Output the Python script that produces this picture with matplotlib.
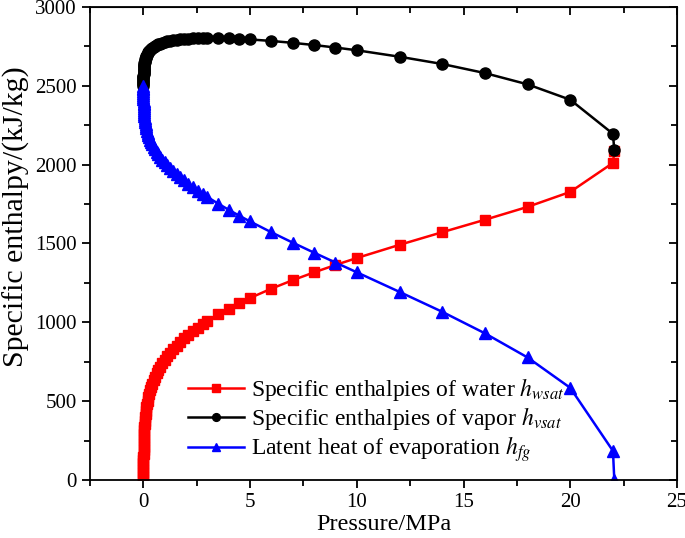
import numpy as np
import matplotlib.pyplot as plt
from matplotlib.ticker import MultipleLocator

plt.rcParams['font.family'] = ['Liberation Serif', 'DejaVu Serif']
plt.rcParams['mathtext.fontset'] = 'stix'

# saturation pressure (MPa) and enthalpies (kJ/kg)
p = [0.000612, 0.000873, 0.001228, 0.001706, 0.002339, 0.00317, 0.004247,
     0.005629, 0.007385, 0.009595, 0.012352, 0.015763, 0.019947, 0.025043,
     0.031202, 0.038597, 0.047416, 0.057868, 0.070183, 0.084609, 0.101418,
     0.1209, 0.14338, 0.16918, 0.19867, 0.23224, 0.27028, 0.31323, 0.36154,
     0.41568, 0.47616, 0.5435, 0.61823, 0.70093, 0.79219, 0.8926, 1.0028,
     1.1235, 1.2552, 1.3988, 1.5549, 1.7243, 1.9077, 2.1058, 2.3196, 2.5497,
     2.7971, 3.0, 3.5, 4.0, 4.5, 5.0, 6.0, 7.0, 8.0, 9.0, 10.0, 12.0, 14.0,
     16.0, 18.0, 20.0, 22.0, 22.064]
h_water = [0.0, 21.0, 42.0, 63.0, 83.9, 104.8, 125.7, 146.6, 167.5, 188.4,
           209.3, 230.3, 251.2, 272.1, 293.1, 314.0, 335.0, 356.0, 377.0,
           398.1, 419.2, 440.3, 461.4, 482.5, 503.8, 525.0, 546.4, 567.7,
           589.2, 610.6, 632.2, 653.8, 675.5, 697.3, 719.1, 741.1, 763.1,
           785.2, 807.4, 829.8, 852.3, 874.9, 897.6, 920.5, 943.6, 966.8,
           990.2, 1008.3, 1049.7, 1087.4, 1122.1, 1154.5, 1213.8, 1267.5,
           1317.1, 1363.7, 1408.0, 1491.5, 1571.6, 1650.5, 1732.2, 1827.2,
           2011.1, 2084.3]
h_vapor = [2500.9, 2510.1, 2519.2, 2528.4, 2537.4, 2546.5, 2555.6, 2564.6,
           2573.5, 2582.4, 2591.3, 2600.1, 2608.8, 2617.5, 2626.1, 2634.6,
           2643.0, 2651.4, 2659.6, 2667.6, 2675.6, 2683.4, 2691.1, 2698.6,
           2705.9, 2713.1, 2720.1, 2726.9, 2733.5, 2739.8, 2745.9, 2751.8,
           2757.4, 2762.8, 2767.9, 2772.7, 2777.2, 2781.4, 2785.3, 2788.8,
           2792.0, 2794.8, 2797.3, 2799.4, 2801.0, 2802.2, 2802.9, 2803.2,
           2802.7, 2800.8, 2797.7, 2794.2, 2784.6, 2772.6, 2758.7, 2742.9,
           2725.5, 2684.6, 2638.5, 2580.9, 2509.4, 2411.7, 2195.6, 2090.0]
h_fg = [2500.9, 2489.1, 2477.2, 2465.4, 2453.5, 2441.7, 2429.8, 2417.9,
        2406.0, 2394.0, 2381.9, 2369.8, 2357.7, 2345.4, 2333.0, 2320.6,
        2308.0, 2295.3, 2282.5, 2269.5, 2256.4, 2243.1, 2229.7, 2216.0,
        2202.1, 2188.1, 2173.7, 2159.1, 2144.3, 2129.2, 2113.7, 2098.0,
        2082.0, 2065.6, 2048.8, 2031.7, 2014.2, 1996.2, 1977.9, 1959.0,
        1939.7, 1919.9, 1899.7, 1878.8, 1857.4, 1835.4, 1812.7, 1794.9,
        1753.0, 1713.5, 1675.6, 1639.7, 1570.9, 1505.2, 1441.6, 1379.3,
        1317.4, 1193.1, 1066.9, 930.4, 777.2, 584.5, 184.5, 0.0]

fig = plt.figure(figsize=(6.85, 5.38), dpi=100)
ax = fig.add_axes([0.1314, 0.1078, 0.8569, 0.8792])

l1, = ax.plot(p, h_water, '-', color='red', marker='s', ms=7.5, lw=1.8)
l2, = ax.plot(p, h_vapor, '-', color='black', marker='o', ms=8, lw=1.8)
l3, = ax.plot(p, h_fg, '-', color='blue', marker='^', ms=9, lw=1.8)

ax.set_xlim(-2.5, 25)
ax.set_ylim(0, 3000)
ax.xaxis.set_major_locator(MultipleLocator(5))
ax.xaxis.set_minor_locator(MultipleLocator(2.5))
ax.yaxis.set_major_locator(MultipleLocator(500))
ax.yaxis.set_minor_locator(MultipleLocator(250))
ax.tick_params(which='both', direction='out', width=1.3, labelsize=15)
ax.tick_params(which='major', length=6)
ax.tick_params(which='minor', length=4)
for s in ax.spines.values():
    s.set_linewidth(1.3)

# mirrored ticks pointing inward on top and right
top = ax.secondary_xaxis('top')
top.xaxis.set_major_locator(MultipleLocator(5))
top.xaxis.set_minor_locator(MultipleLocator(2.5))
top.tick_params(which='both', direction='in', width=1.3, labeltop=False)
top.tick_params(which='major', length=6)
top.tick_params(which='minor', length=4)
right = ax.secondary_yaxis('right')
right.yaxis.set_major_locator(MultipleLocator(500))
right.yaxis.set_minor_locator(MultipleLocator(250))
right.tick_params(which='both', direction='in', width=1.3, labelright=False)
right.tick_params(which='major', length=6)
right.tick_params(which='minor', length=4)

ax.set_xlabel('Pressure/MPa', fontsize=17.5, labelpad=1)
ax.set_ylabel('Specific enthalpy/(kJ/kg)', fontsize=21.5)
ax.yaxis.set_label_coords(-0.102, 0.556)

ax.legend([l1, l2, l3],
          [r'Specific enthalpies of water $h_{wsat}$',
           r'Specific enthalpies of vapor $h_{vsat}$',
           r'Latent heat of evaporation $h_{fg}$'],
          loc='lower left', bbox_to_anchor=(0.13, -0.012),
          frameon=False, fontsize=17, markerscale=0.7,
          handlelength=2.4, handletextpad=0.3, labelspacing=0.1)

plt.savefig('out.png', dpi=100)
